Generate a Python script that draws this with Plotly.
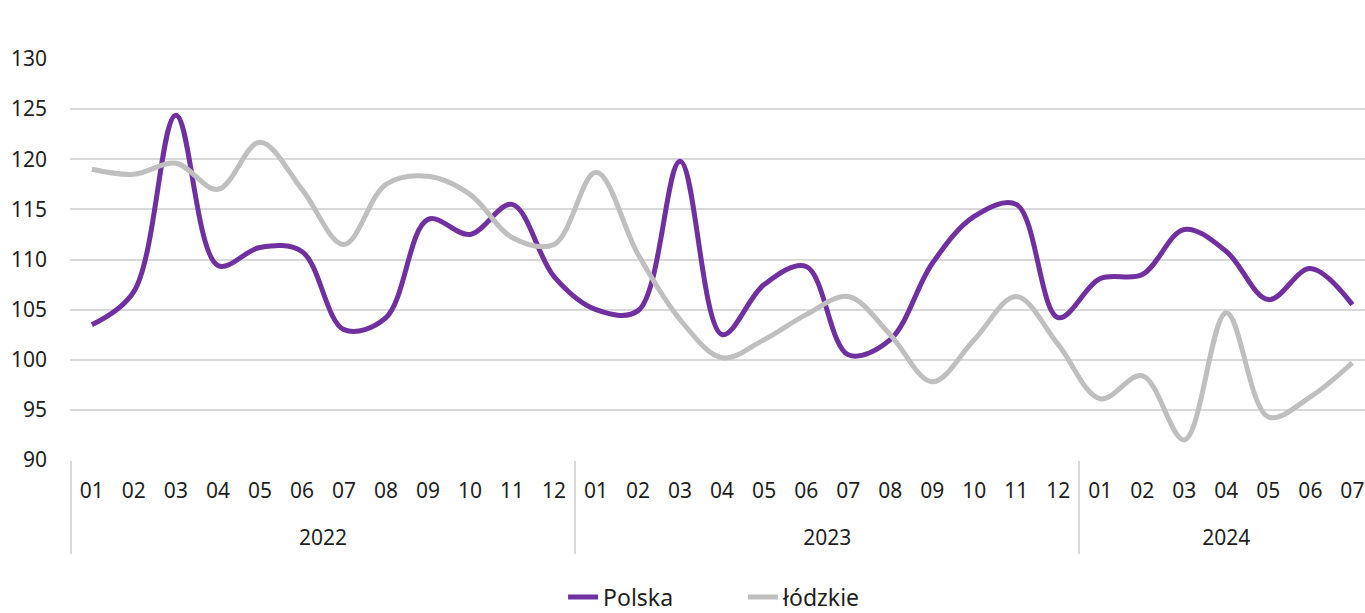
import plotly.graph_objects as go

years = ["2022"] * 12 + ["2023"] * 12 + ["2024"] * 7
months = [f"{m:02d}" for m in range(1, 13)] * 2 + [f"{m:02d}" for m in range(1, 8)]

polska = [103.5, 106.8, 124.4, 109.4, 111.2, 110.8, 103.0, 104.2, 114.0, 112.5, 115.5, 108.3,
          105.0, 104.9, 119.8, 102.5, 107.5, 109.3, 100.5, 102.0, 109.6, 114.3, 115.5, 104.2,
          108.1, 108.5, 113.0, 110.8, 106.0, 109.1, 105.5]
lodzkie = [119.0, 118.5, 119.6, 117.0, 121.7, 117.0, 111.5, 117.5, 118.3, 116.5, 112.2, 111.5,
           118.7, 110.5, 104.0, 100.2, 102.0, 104.5, 106.3, 102.5, 97.8, 102.0, 106.3, 101.5,
           96.1, 98.4, 92.0, 104.7, 94.3, 96.3, 99.7]

FONT = "Noto Sans"
TXT = "#1f1f1f"
GRID = "#d9d9d9"
Y_RANGE = [90, 130]

idx = list(range(len(months)))
# year groups: centre positions and boundaries derived from the category list
year_names = []
for y in years:
    if y not in year_names:
        year_names.append(y)
year_centres = []
boundaries = [-0.5]
for yn in year_names:
    pos = [i for i, y in enumerate(years) if y == yn]
    year_centres.append(sum(pos) / len(pos))
    boundaries.append(pos[-1] + 0.5)

XR = [-0.52, 30.3]

fig = go.Figure()
fig.add_trace(go.Scatter(x=idx, y=polska, name="Polska", mode="lines",
                         line=dict(color="#7030A0", width=5, shape="spline", smoothing=1.0)))
fig.add_trace(go.Scatter(x=idx, y=lodzkie, name="łódzkie", mode="lines",
                         line=dict(color="#BFBFBF", width=5, shape="spline", smoothing=1.0)))
# invisible helper traces so the year-label axis and the divider axis get drawn
fig.add_trace(go.Scatter(x=year_centres, y=[Y_RANGE[0]] * len(year_centres), xaxis="x2",
                         mode="markers", marker=dict(opacity=0), showlegend=False,
                         hoverinfo="skip"))
fig.add_trace(go.Scatter(x=boundaries, y=[Y_RANGE[0]] * len(boundaries), xaxis="x3",
                         mode="markers", marker=dict(opacity=0), showlegend=False,
                         hoverinfo="skip"))

fig.update_layout(
    width=1365, height=613,
    margin=dict(l=70, r=0, t=59, b=153),
    paper_bgcolor="white", plot_bgcolor="white",
    font=dict(family=FONT, size=21, color=TXT),
    showlegend=True,
    legend=dict(orientation="h", x=0.4125, xanchor="left", xref="container",
                y=0.026, yanchor="middle", yref="container",
                font=dict(size=23, color=TXT), entrywidth=135, entrywidthmode="pixels"),
    hovermode=False,
    xaxis=dict(range=XR, tickvals=idx, ticktext=months, showgrid=False, showline=False,
               zeroline=False, ticks="", ticklabelstandoff=16, automargin=False,
               tickfont=dict(family=FONT, size=21, color=TXT)),
    xaxis2=dict(range=XR, overlaying="x", anchor="y", side="bottom", tickvals=year_centres,
                ticktext=year_names, showgrid=False, showline=False, zeroline=False, ticks="",
                ticklabelstandoff=63, automargin=False,
                tickfont=dict(family=FONT, size=21, color=TXT)),
    xaxis3=dict(range=XR, overlaying="x", anchor="y", side="bottom", tickvals=boundaries,
                showticklabels=False, showgrid=False, showline=False, zeroline=False,
                ticks="outside", ticklen=93, tickwidth=2, tickcolor=GRID, automargin=False),
    yaxis=dict(range=Y_RANGE, dtick=5, showgrid=True, gridcolor=GRID, gridwidth=2,
               zeroline=False, showline=False, ticks="", ticklabelstandoff=22, automargin=False,
               tickfont=dict(family=FONT, size=21, color=TXT)),
)

fig.write_html("out.html", config={"displayModeBar": False, "staticPlot": True},
               post_script="document.body.style.margin='0';")
